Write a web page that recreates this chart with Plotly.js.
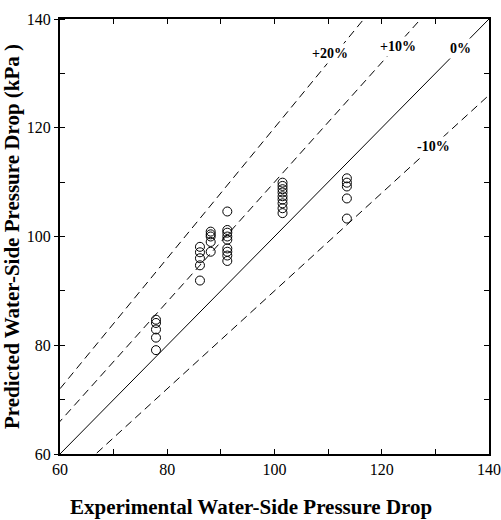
<!DOCTYPE html>
<html>
<head>
<meta charset="utf-8">
<script src="https://cdn.plot.ly/plotly-3.0.1.min.js"></script>
<style>html,body{margin:0;padding:0;background:#fff;}#chart{width:501px;height:520px;}</style>
</head>
<body>
<div id="chart"></div>
<script>
// Experimental (x) and predicted (y) water-side pressure drop, kPa
const expDrop = [
  77.9, 77.9, 77.9, 77.9, 77.9,
  86.1, 86.1, 86.1, 86.1, 86.1,
  88.1, 88.1, 88.1, 88.1, 88.1,
  91.2, 91.2, 91.2, 91.2, 91.2, 91.2, 91.2, 91.2, 91.2,
  101.5, 101.5, 101.5, 101.5, 101.5, 101.5, 101.5, 101.5, 101.5,
  113.5, 113.5, 113.5, 113.5, 113.5
];
const predDrop = [
  84.7, 84.1, 82.9, 81.4, 79.1,
  98.1, 97.1, 96.0, 94.7, 91.9,
  100.9, 100.4, 100.0, 99.0, 97.2,
  104.6, 101.2, 100.7, 100.0, 99.4, 97.8, 97.2, 96.5, 95.5,
  109.9, 109.3, 108.7, 108.1, 107.4, 106.8, 106.1, 105.2, 104.3,
  110.7, 109.9, 109.2, 107.0, 103.3
];
// Reference deviation lines
const refLabels = ['+20%', '+10%', '0%', '-10%'];
const refRatios = [1.2, 1.1, 1.0, 0.9];
const refDash = ['8px,5px', '8px,5px', 'solid', '8px,5px'];
const refX = [40, 160];
// label anchor positions (data coords)
const labelX = [110.3, 123.0, 134.6, 129.6];
const labelY = [133.7, 134.9, 134.5, 116.5];

const axisTicks = [60, 80, 100, 120, 140];
const xTitle = 'Experimental Water-Side Pressure Drop';
const yTitle = 'Predicted Water-Side Pressure Drop (kPa )';

const traces = [];
refRatios.forEach((r, i) => {
  traces.push({
    x: refX, y: refX.map(v => v * r), mode: 'lines', type: 'scatter',
    line: {color: '#000', width: 1, dash: refDash[i]}, hoverinfo: 'skip', showlegend: false
  });
});
traces.push({
  x: expDrop, y: predDrop, mode: 'markers', type: 'scatter', showlegend: false,
  marker: {symbol: 'circle-open', size: 9, color: '#000', line: {width: 1, color: '#000'}}
});
// invisible trace to create right-side mirrored axis
traces.push({x: [60], y: [60], yaxis: 'y2', mode: 'markers', marker: {opacity: 0}, showlegend: false, hoverinfo: 'skip'});

const font = {family: '"Liberation Serif", "Times New Roman", serif', color: '#000'};

const annotations = refLabels.map((t, i) => ({
  x: labelX[i], y: labelY[i], xref: 'x', yref: 'y', text: t, showarrow: false,
  font: Object.assign({size: 14, weight: 'bold'}, font), bgcolor: '#fff', borderpad: 2
}));
annotations.push({
  x: 0.445, y: -0.122, xref: 'paper', yref: 'paper', xanchor: 'center', yanchor: 'middle',
  text: xTitle, showarrow: false, font: Object.assign({size: 21, weight: 'bold'}, font)
});

const layout = {
  width: 501, height: 520,
  margin: {l: 60, r: 12, t: 19, b: 66},
  paper_bgcolor: '#fff', plot_bgcolor: '#fff',
  font: Object.assign({size: 16}, font),
  showlegend: false,
  xaxis: {
    range: [60, 140], tickvals: axisTicks, ticktext: axisTicks.map(String),
    ticks: 'inside', ticklen: 5, tickwidth: 1, tickcolor: '#000',
    minor: {ticks: 'inside', dtick: 10, ticklen: 5, tickwidth: 1, tickcolor: '#000'},
    showline: true, linewidth: 2, linecolor: '#000', mirror: 'ticks',
    showgrid: false, zeroline: false,
    tickfont: Object.assign({size: 16}, font)
  },
  yaxis: {
    range: [60, 140], tickvals: axisTicks, ticktext: axisTicks.map(String),
    ticks: 'outside', ticklen: 4, tickwidth: 1, tickcolor: '#000',
    minor: {ticks: 'inside', dtick: 10, ticklen: 5, tickwidth: 1, tickcolor: '#000'},
    showline: true, linewidth: 2, linecolor: '#000', mirror: false,
    showgrid: false, zeroline: false,
    tickfont: Object.assign({size: 16}, font),
    title: {text: yTitle, font: Object.assign({size: 21, weight: 'bold'}, font), standoff: 5}
  },
  yaxis2: {
    range: [60, 140], overlaying: 'y', side: 'right', dtick: 10, tick0: 60,
    ticks: 'inside', ticklen: 5, tickwidth: 1, tickcolor: '#000',
    showticklabels: false, showline: true, linewidth: 2, linecolor: '#000',
    showgrid: false, zeroline: false
  },
  annotations: annotations
};

Plotly.newPlot('chart', traces, layout, {displayModeBar: false, staticPlot: true});
</script>
</body>
</html>
